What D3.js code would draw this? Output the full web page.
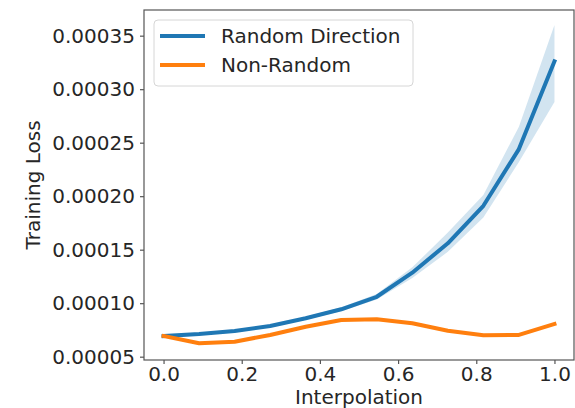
<!DOCTYPE html>
<html><head><meta charset="utf-8">
<script src="https://cdn.jsdelivr.net/npm/d3@7"></script>
<style>body{margin:0;background:#fff}svg{display:block}text{font-family:"DejaVu Sans",sans-serif;fill:#262626}</style>
</head><body><svg id="c" width="575" height="408"></svg>
<script>
const interp = [0, 1/11, 2/11, 3/11, 4/11, 5/11, 6/11, 7/11, 8/11, 9/11, 10/11, 1];
const randomMean  = [0.0000693, 0.0000712, 0.0000740, 0.0000787, 0.0000859, 0.0000943, 0.0001060, 0.0001285, 0.0001560, 0.0001910, 0.0002440, 0.0003260];
const randomLower = [0.0000685, 0.0000703, 0.0000730, 0.0000775, 0.0000845, 0.0000925, 0.0001035, 0.0001235, 0.0001480, 0.0001800, 0.0002320, 0.0002880];
const randomUpper = [0.0000701, 0.0000721, 0.0000750, 0.0000799, 0.0000873, 0.0000961, 0.0001085, 0.0001335, 0.0001660, 0.0002010, 0.0002650, 0.0003600];
const nonRandom   = [0.0000693, 0.0000625, 0.0000640, 0.0000703, 0.0000780, 0.0000843, 0.0000850, 0.0000812, 0.0000743, 0.0000700, 0.0000703, 0.0000806];
const xTicks = [0, 0.2, 0.4, 0.6, 0.8, 1.0];
const yTicks = [0.00005, 0.00010, 0.00015, 0.00020, 0.00025, 0.00030, 0.00035];
const xDomain = [-0.05, 1.05];
const yDomain = [0.0000469, 0.000374];
const seriesNames = ["Random Direction", "Non-Random"];
const colors = ["#1f77b4", "#ff7f0e"];

const L = 144, R = 574, T = 10, B = 360;
const svg = d3.select("#c");
const x = d3.scaleLinear().domain(xDomain).range([L, R]);
const y = d3.scaleLinear().domain(yDomain).range([B, T]);

const pts = interp.map((v, i) => ({x: v, m: randomMean[i], lo: randomLower[i], hi: randomUpper[i], n: nonRandom[i]}));

svg.append("path").datum(pts)
  .attr("d", d3.area().x(d => x(d.x)).y0(d => y(d.lo)).y1(d => y(d.hi)))
  .attr("fill", colors[0]).attr("fill-opacity", 0.2).attr("stroke", "none");
svg.append("path").datum(pts)
  .attr("d", d3.line().x(d => x(d.x)).y(d => y(d.m)))
  .attr("fill", "none").attr("stroke", colors[0]).attr("stroke-width", 4).attr("stroke-linejoin", "round").attr("stroke-linecap", "square");
svg.append("path").datum(pts)
  .attr("d", d3.line().x(d => x(d.x)).y(d => y(d.n)))
  .attr("fill", "none").attr("stroke", colors[1]).attr("stroke-width", 4).attr("stroke-linejoin", "round").attr("stroke-linecap", "square");

// axes
const xAxis = svg.append("g").attr("transform", `translate(0,${B})`)
  .call(d3.axisBottom(x).tickValues(xTicks).tickFormat(d3.format(".1f")).tickSize(4).tickPadding(3));
const yAxis = svg.append("g").attr("transform", `translate(${L},0)`)
  .call(d3.axisLeft(y).tickValues(yTicks).tickFormat(d3.format(".5f")).tickSize(4).tickPadding(5));
[xAxis, yAxis].forEach(g => {
  g.select(".domain").remove();
  g.selectAll(".tick line").attr("stroke", "#555").attr("stroke-width", 1.2);
  g.selectAll(".tick text").attr("font-size", 20).attr("fill", "#262626");
});
// spines
svg.append("rect").attr("x", L).attr("y", T).attr("width", R - L).attr("height", B - T)
  .attr("fill", "none").attr("stroke", "#555").attr("stroke-width", 1.2);

svg.append("text").attr("x", (L + R) / 2).attr("y", 404).attr("text-anchor", "middle").attr("font-size", 20).text("Interpolation");
svg.append("text").attr("transform", `translate(40,${(T + B) / 2}) rotate(-90)`).attr("text-anchor", "middle").attr("font-size", 20).text("Training Loss");

// legend
const lg = svg.append("g");
lg.append("rect").attr("x", 154).attr("y", 20).attr("width", 259).attr("height", 66).attr("rx", 4)
  .attr("fill", "#fff").attr("fill-opacity", 0.8).attr("stroke", "#d6d6d6").attr("stroke-width", 1);
seriesNames.forEach((name, i) => {
  const yy = 36 + i * 29;
  lg.append("line").attr("x1", 160).attr("x2", 205).attr("y1", yy).attr("y2", yy)
    .attr("stroke", colors[i]).attr("stroke-width", 4);
  lg.append("text").attr("x", 221).attr("y", yy + 7).attr("font-size", 20).text(name);
});
</script></body></html>
